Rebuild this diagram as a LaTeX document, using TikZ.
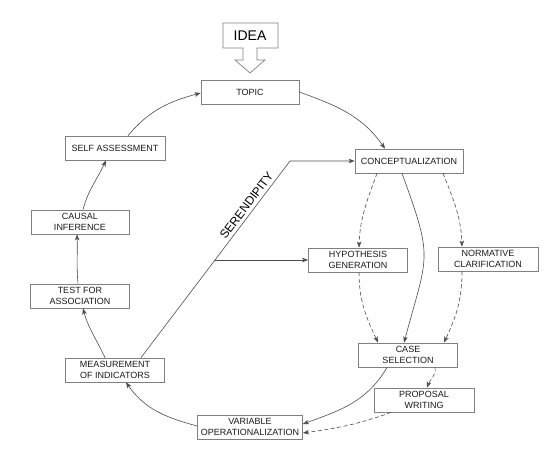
\documentclass[tikz,border=0pt]{standalone}
\usepackage{fontspec}
\setmainfont{Liberation Sans}
\usetikzlibrary{arrows.meta}
\tikzset{
  box/.style={draw=black!50, line width=0.7pt, rectangle, minimum height=24pt, inner sep=1pt,
    align=center, font=\fontsize{9}{11}\selectfont, text=black!90},
  flow/.style={draw=black!70, line width=0.6pt, -{Stealth[length=6pt,width=4.5pt,inset=1.5pt]}},
  dflow/.style={flow, dash pattern=on 4pt off 2.5pt}
}
\begin{document}
\begin{tikzpicture}[x=1pt,y=1pt]
\useasboundingbox (0,0) rectangle (554,461);
% idea arrow
\draw[black!50, line width=0.7pt] (223,438) -- (278,438) -- (278,413) -- (257,413) -- (257,401)
  -- (265,401) -- (250,388) -- (235,401) -- (243,401) -- (243,413) -- (223,413) -- cycle;
\node (idea) at (250,425.5) {\fontsize{14}{16}\selectfont IDEA};
% boxes
\node[box, minimum width=98pt] (topic) at (250,369) {TOPIC};
\node[box, minimum width=108pt] (concept) at (409,300) {CONCEPTUALIZATION};
\node[box, minimum width=99pt] (hyp) at (358,201) {HYPOTHESIS\\GENERATION};
\node[box, minimum width=100pt] (norm) at (488,202) {NORMATIVE\\CLARIFICATION};
\node[box, minimum width=99pt] (case) at (408,106) {CASE\\SELECTION};
\node[box, minimum width=100pt] (prop) at (424,61) {PROPOSAL\\WRITING};
\node[box, minimum width=105pt] (var) at (250,34) {VARIABLE\\OPERATIONALIZATION};
\node[box, minimum width=99pt] (meas) at (115,91) {MEASUREMENT\\OF INDICATORS};
\node[box, minimum width=99pt] (test) at (80,165) {TEST FOR\\ASSOCIATION};
\node[box, minimum width=98pt] (causal) at (80,239) {CAUSAL\\INFERENCE};
\node[box, minimum width=100pt] (self) at (115,313) {SELF ASSESSMENT};
% main cycle
\draw[flow] (topic.east) to[out=-20,in=125] ([xshift=-24pt]concept.north);
\draw[flow] ([xshift=-7pt]concept.south) to[out=-70,in=75,looseness=1.4] ([xshift=-4pt]case.north);
\draw[flow] ([xshift=-21pt]case.south) to[out=-120,in=20] ([yshift=3pt]var.east);
\draw[flow] ([yshift=1pt]var.west) to[out=165,in=-55] ([xshift=11pt]meas.south);
\draw[flow] ([xshift=-10pt]meas.north) to[out=115,in=-75] ([xshift=3pt]test.south);
\draw[flow] ([xshift=-2pt]test.north) to[out=95,in=-88] ([xshift=-3pt]causal.north |- causal.south);
\draw[flow] ([xshift=3pt]causal.north) to[out=75,in=-115] ([xshift=-9pt]self.south);
\draw[flow] ([xshift=13pt]self.north) to[out=50,in=195] ([yshift=-1pt]topic.west);
% dashed branches
\draw[dflow] ([xshift=-32pt]concept.south) to[out=-110,in=88] ([xshift=1pt]hyp.north);
\draw[dflow] ([xshift=34pt]concept.south) to[out=-68,in=92] ([xshift=-26pt]norm.north);
\draw[dflow] ([xshift=1pt]hyp.south) to[out=-90,in=115] ([xshift=-30pt]case.north);
\draw[dflow] ([xshift=-26pt]norm.south) to[out=-90,in=65] ([xshift=36pt]case.north);
\draw[dflow] ([xshift=27pt]case.south) to[out=-80,in=70] ([xshift=3pt]prop.north);
\draw[dflow] ([xshift=-33pt]prop.south) to[out=200,in=8] ([yshift=-6pt]var.east);
% serendipity
\coordinate (corner) at (290,300);
\coordinate (fork) at (214.7,201);
\draw[flow] ([xshift=26pt]meas.north) -- node[pos=0.75, above, sloped, font=\fontsize{12}{14}\selectfont] {SERENDIPITY} (corner) -- (concept.west);
\draw[flow] (fork) -- (hyp.west);
\end{tikzpicture}
\end{document}
